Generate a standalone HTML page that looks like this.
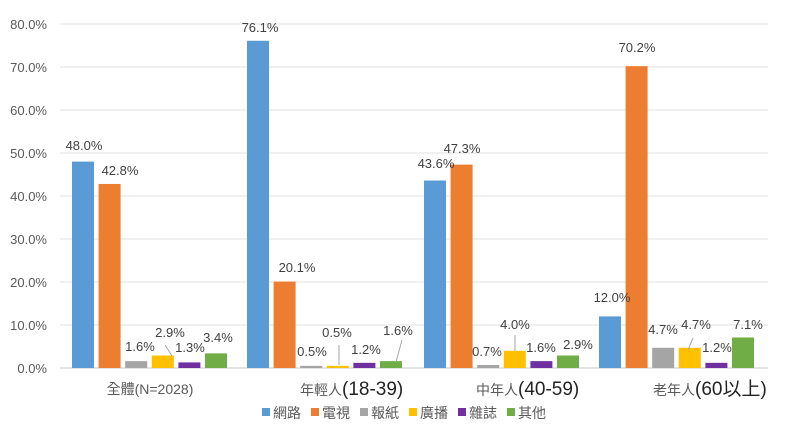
<!DOCTYPE html>
<html><head><meta charset="utf-8"><style>
body{margin:0;background:#fff;width:800px;height:432px;overflow:hidden}
svg{display:block;font-family:"Liberation Sans","Noto Sans CJK TC",sans-serif}
</style></head><body>
<svg id="s" width="800" height="432" xmlns="http://www.w3.org/2000/svg"></svg>
<script>
const s=document.getElementById('s');let h='';
const base=368,k=4.3;
for(let i=0;i<=8;i++){const y=base-i*43;h+=`<line x1="60" x2="768" y1="${y}" y2="${y}" stroke="${i?'#e0e0e0':'#c8c8c8'}" stroke-width="1"/>`;
h+=`<text x="47" y="${y+5}" text-anchor="end" font-size="13" fill="#595959">${(i*10).toFixed(1)}%</text>`;}
const cols=['#5b9bd5','#ed7d31','#a5a5a5','#ffc000','#7030a0','#70ad47'];
const data=[[48.0,42.8,1.6,2.9,1.3,3.4],[76.1,20.1,0.5,0.5,1.2,1.6],[43.6,47.3,0.7,4.0,1.6,2.9],[12.0,70.2,4.7,4.7,1.2,7.1]];
const gx=[72,247,424,599];
data.forEach((d,g)=>d.forEach((v,j)=>{const x=gx[g]+j*26.6,hh=v*k;h+=`<rect x="${x}" y="${base-hh}" width="22" height="${hh}" fill="${cols[j]}"/>`;}));
const L=[[84,150,'48.0%'],[120,175,'42.8%'],[140,351,'1.6%'],[170,337,'2.9%'],[190,352,'1.3%'],[218,342,'3.4%'],
[260,32,'76.1%'],[297,272,'20.1%'],[312,356,'0.5%'],[337,337,'0.5%'],[366,354,'1.2%'],[398,335,'1.6%'],
[436,168,'43.6%'],[462,153,'47.3%'],[487,356,'0.7%'],[515,329,'4.0%'],[541,352,'1.6%'],[578,349,'2.9%'],
[612,302,'12.0%'],[637,52,'70.2%'],[663,334,'4.7%'],[696,329,'4.7%'],[717,352,'1.2%'],[748,329,'7.1%']];
L.forEach(l=>h+=`<text x="${l[0]}" y="${l[1]}" text-anchor="middle" font-size="13" fill="#404040">${l[2]}</text>`);
[[165,345,172,356],[339,345,339,365],[402,340,396,362],[515,335,515,351],[693,338,688,350]].forEach(a=>h+=`<line x1="${a[0]}" y1="${a[1]}" x2="${a[2]}" y2="${a[3]}" stroke="#a6a6a6"/>`);
h+=`<text x="150" y="394" text-anchor="middle" font-size="14" fill="#595959">全體(N=2028)</text>`;
h+=`<text x="300" y="395" font-size="14" fill="#595959">年輕人<tspan font-size="19" fill="#222">(18-39)</tspan></text>`;
h+=`<text x="476" y="395" font-size="14" fill="#595959">中年人<tspan font-size="19" fill="#222">(40-59)</tspan></text>`;
h+=`<text x="653" y="395" font-size="14" fill="#595959">老年人<tspan font-size="19" fill="#222">(60以上)</tspan></text>`;
const lg=['網路','電視','報紙','廣播','雜誌','其他'],lx=[262,311,360,409,458,507];
lg.forEach((t,i)=>{h+=`<rect x="${lx[i]}" y="408" width="8" height="8" fill="${cols[i]}"/><text x="${lx[i]+11}" y="418" font-size="14" fill="#595959">${t}</text>`;});
s.innerHTML=h;
</script>
</body></html>
